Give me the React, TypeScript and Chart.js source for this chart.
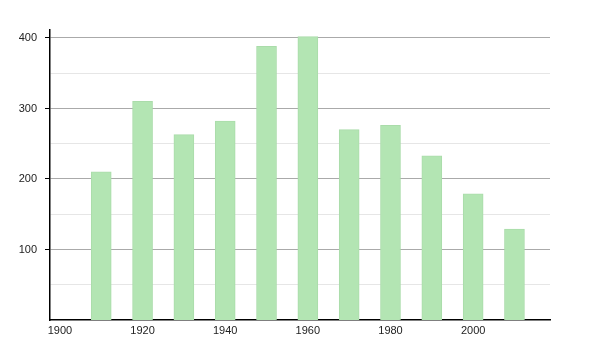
import React, { useEffect, useRef } from "react";
import { Chart, registerables } from "chart.js";

Chart.register(...registerables);

const years = [1910, 1920, 1930, 1940, 1950, 1960, 1970, 1980, 1990, 2000, 2010];
const population = [210, 310, 263, 282, 388, 402, 270, 276, 233, 179, 129];
const xTickYears = [1900, 1920, 1940, 1960, 1980, 2000];
const yTickValues = [50, 100, 150, 200, 250, 300, 350, 400];

export default function App() {
  const ref = useRef<HTMLCanvasElement | null>(null);

  useEffect(() => {
    if (!ref.current) return;
    const font = { family: "'Liberation Sans', Arial, sans-serif", size: 11 };
    const chart = new Chart(ref.current, {
      type: "bar",
      data: {
        datasets: [
          {
            data: years.map((y, i) => ({ x: y, y: population[i] })),
            backgroundColor: "#b3e5b3",
            borderColor: "#aadcaa",
            borderWidth: 1,
            barThickness: 20,
          },
        ],
      },
      options: {
        animation: false,
        responsive: false,
        devicePixelRatio: 1,
        layout: { padding: { left: 0, right: 50, top: 30, bottom: 0 } },
        plugins: { legend: { display: false }, tooltip: { enabled: false } },
        scales: {
          x: {
            type: "linear",
            offset: false,
            min: 1897.6,
            max: 2018.6,
            afterBuildTicks: (s: any) => {
              s.ticks = xTickYears.map((v) => ({ value: v }));
            },
            afterFit: (s: any) => {
              s.height = 30;
            },
            grid: { display: false, drawTicks: false },
            border: { display: true, color: "#000", width: 1.5 },
            ticks: {
              color: "#222",
              font,
              padding: 4,
              maxRotation: 0,
              autoSkip: false,
              callback: (v: any) => String(v),
            },
          },
          y: {
            min: 0,
            max: 411.3,
            afterBuildTicks: (s: any) => {
              s.ticks = yTickValues.map((v) => ({ value: v }));
            },
            afterFit: (s: any) => {
              s.width = 50;
            },
            grid: {
              color: (ctx: any) =>
                ctx.tick && ctx.tick.value % 100 === 0 ? "#aaaaaa" : "#e6e6e6",
              tickColor: (ctx: any) =>
                ctx.tick && ctx.tick.value % 100 === 0 ? "#000" : "transparent",
              tickLength: 5,
              lineWidth: 1,
            },
            border: { display: true, color: "#000", width: 1.5 },
            ticks: {
              color: "#222",
              font,
              padding: 8,
              autoSkip: false,
              callback: (v: any) => (Number(v) % 100 === 0 ? String(v) : ""),
            },
          },
        },
      },
    });
    return () => chart.destroy();
  }, []);

  return (
    <div style={{ position: "fixed", left: 0, top: 0, width: 600, height: 350, background: "#fff" }}>
      <canvas ref={ref} width={600} height={350} style={{ width: 600, height: 350 }} />
    </div>
  );
}
